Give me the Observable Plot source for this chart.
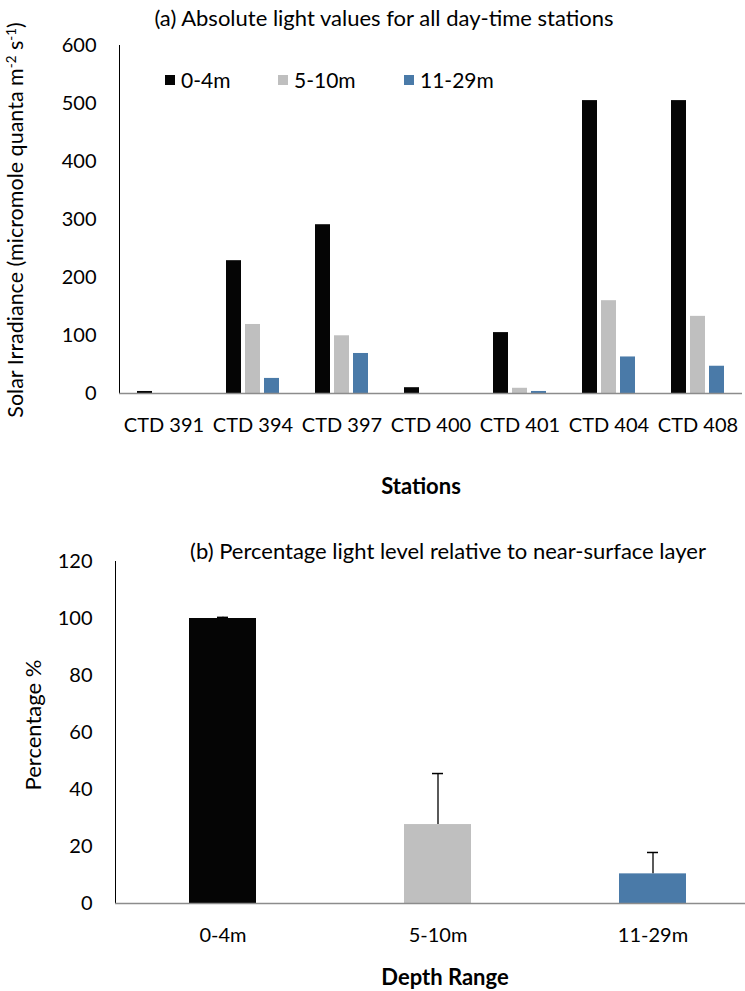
<!DOCTYPE html>
<html>
<head>
<meta charset="utf-8">
<script src="https://cdn.jsdelivr.net/npm/d3@7"></script>
<script src="https://cdn.jsdelivr.net/npm/@observablehq/plot@0.6"></script>
<style>
  html, body { margin: 0; padding: 0; background: #fff; }
  body { font-family: Lato, "Open Sans", sans-serif; color: #000; }
  #wrap { position: relative; width: 745px; height: 991px; overflow: hidden; background: #fff; }
  .abs { position: absolute; white-space: nowrap; line-height: 1; }
  .c { transform: translate(-50%, -50%); }
  .rot { transform: translate(-50%, -50%) rotate(-90deg); }
  .bold { font-weight: bold; }
  sup { font-size: 0.62em; vertical-align: 0.55em; line-height: 0; }
  .legend-item { position: absolute; display: flex; align-items: center; font-size: 21px; }
  .legend-item span.sw { display: inline-block; width: 10px; height: 10px; margin-right: 6px; }
  svg [aria-label^="y-axis"] path.domain,
  svg [aria-label="y-axis line"] line,
  svg [aria-label="y-axis line"] path { stroke: #8c8c8c; stroke-width: 1.5; }
</style>
</head>
<body>
<div id="wrap">
  <div id="chartA" class="abs" style="left:0;top:0"></div>
  <div id="chartB" class="abs" style="left:0;top:480px"></div>
</div>
<script>
// ---- data: panel (a) ----
const stations = ["CTD 391", "CTD 394", "CTD 397", "CTD 400", "CTD 401", "CTD 404", "CTD 408"];
const depths = ["0-4m", "5-10m", "11-29m"];
const depthColors = ["#050505", "#bfbfbf", "#4a7aa8"];
const light0to4 = [3.5, 229, 291, 10, 105, 505, 505];
const light5to10 = [0, 119, 99.5, 0, 9, 160, 133];
const light11to29 = [0, 26, 69, 0, 3.5, 63, 47];
const yTicksA = [0, 100, 200, 300, 400, 500, 600];

// ---- data: panel (b) ----
const pctMean = [100, 27.7, 10.4];
const pctErr = [0.4, 17.9, 7.5];
const yTicksB = [0, 20, 40, 60, 80, 100, 120];

// texts
const titleA = "(a) Absolute light values for all day-time stations";
const titleB = "(b) Percentage light level relative to near-surface layer";
const xLabelA = "Stations";
const xLabelB = "Depth Range";
const yLabelB = "Percentage %";

const series = [light0to4, light5to10, light11to29];
const rowsA = stations.flatMap((s, i) => depths.map((d, j) => ({station: s, depth: d, value: series[j][i]})));
const rowsB = depths.map((d, i) => ({depth: d, mean: pctMean[i], top: pctMean[i] + pctErr[i]}));

const baseStyle = {fontFamily: "Lato, 'Open Sans', sans-serif", fontSize: "20px", color: "#000", background: "transparent", overflow: "visible"};

const chartA = Plot.plot({
  width: 745, height: 445,
  marginLeft: 116, marginRight: 0, marginTop: 45, marginBottom: 52,
  style: baseStyle,
  facet: {data: rowsA, x: "station"},
  fx: {domain: stations, padding: 0, axis: "bottom", label: null, tickSize: 0, tickPadding: 24},
  x: {domain: depths, paddingInner: 0.2, paddingOuter: 0.85, axis: null},
  y: {domain: [0, 600], ticks: yTicksA, tickSize: 0, tickPadding: 23, label: null, line: true},
  color: {domain: depths, range: depthColors},
  marks: [
    Plot.barY(rowsA, {x: "depth", y: "value", fill: "depth"}),
    Plot.ruleY([0], {stroke: "#8c8c8c", strokeWidth: 1.5})
  ]
});
document.getElementById("chartA").appendChild(chartA);

const chartB = Plot.plot({
  width: 745, height: 511,
  marginLeft: 115, marginRight: 0, marginTop: 81, marginBottom: 88,
  style: baseStyle,
  x: {domain: depths, range: [115, 760], paddingInner: 0.688, paddingOuter: 0.344, tickSize: 0, tickPadding: 24, label: null},
  y: {domain: [0, 120], ticks: yTicksB, tickSize: 0, tickPadding: 23, label: null, line: true},
  color: {domain: depths, range: depthColors},
  marks: [
    Plot.barY(rowsB, {x: "depth", y: "mean", fill: "depth"}),
    Plot.ruleX(rowsB, {x: "depth", y1: "mean", y2: "top", stroke: "#000", strokeWidth: 1.3}),
    Plot.tickY(rowsB, {x: "depth", y: "top", stroke: "#000", strokeWidth: 1.5, insetLeft: 28, insetRight: 28}),
    Plot.ruleY([0], {stroke: "#8c8c8c", strokeWidth: 1.5})
  ]
});
document.getElementById("chartB").appendChild(chartB);

// ---- HTML texts ----
const wrap = document.getElementById("wrap");
function addText(html, x, y, cls, size) {
  const el = document.createElement("div");
  el.className = "abs " + cls;
  el.style.left = x + "px";
  el.style.top = y + "px";
  el.style.fontSize = size + "px";
  el.innerHTML = html;
  wrap.appendChild(el);
  return el;
}
addText(titleA, 384, 18, "c", 22);
addText(xLabelA, 421, 486, "c bold", 22);
addText("Solar Irradiance (micromole quanta m<sup>-2</sup> s<sup>-1</sup>)", 16, 220, "rot", 21.5);
addText(titleB, 448, 551, "c", 22);
addText(xLabelB, 445, 977, "c bold", 22);
addText(yLabelB, 33, 725, "rot", 22);

// legend built from depth arrays
const legendX = [165, 278, 404];
depths.forEach((d, i) => {
  const item = document.createElement("div");
  item.className = "legend-item";
  item.style.left = legendX[i] + "px";
  item.style.top = "67px";
  item.innerHTML = `<span class="sw" style="background:${depthColors[i]}"></span><span>${d}</span>`;
  wrap.appendChild(item);
});
</script>
</body>
</html>
